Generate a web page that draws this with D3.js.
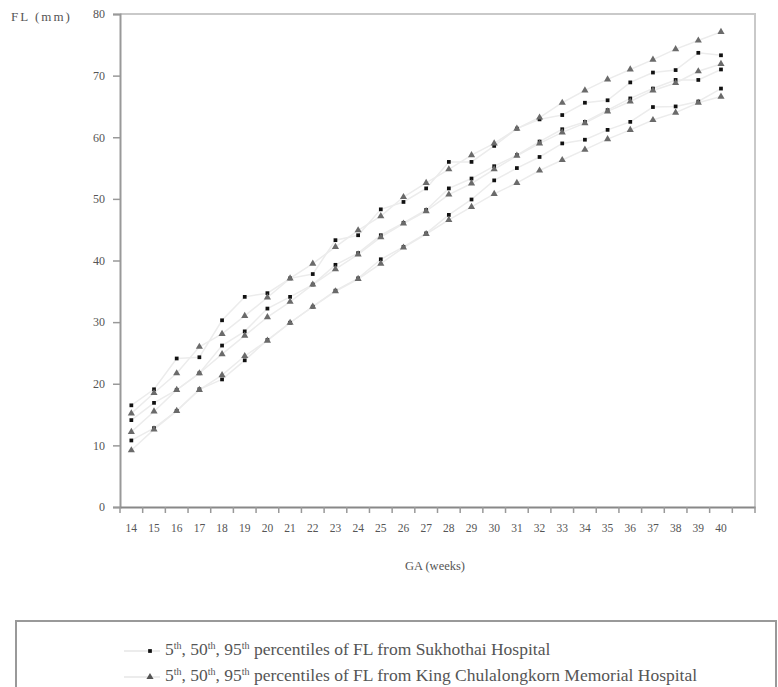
<!DOCTYPE html>
<html>
<head>
<meta charset="utf-8">
<script src="https://cdn.jsdelivr.net/npm/d3@7"></script>
<style>
  body { margin: 0; background: #fff; }
  text { font-family: "Liberation Serif", "DejaVu Serif", serif; fill: #555; }
</style>
</head>
<body>
<div id="chart"></div>
<script>
// gestational age (weeks); 41 is an empty slot at the end of the category axis
const weeks = [14, 15, 16, 17, 18, 19, 20, 21, 22, 23, 24, 25, 26, 27, 28, 29, 30, 31, 32, 33, 34, 35, 36, 37, 38, 39, 40];
const axisSlots = weeks.concat([41]);
const yTicks = [0, 10, 20, 30, 40, 50, 60, 70, 80];

// Sukhothai Hospital percentiles (FL, mm)
const suk5 = [10.8, 12.8, 15.6, 19.1, 20.7, 23.8, 27.1, 29.9, 32.5, 35.1, 37.1, 40.2, 42.2, 44.4, 47.4, 49.9, 53.0, 55.0, 56.8, 59.0, 59.6, 61.2, 62.5, 64.9, 65.0, 65.8, 67.9];
const suk50 = [14.1, 16.9, 19.0, 21.7, 26.2, 28.5, 32.2, 34.1, 36.1, 39.3, 41.2, 44.1, 46.1, 48.2, 51.7, 53.3, 55.3, 57.1, 59.3, 61.3, 62.5, 64.4, 66.3, 67.9, 69.3, 69.3, 71.0];
const suk95 = [16.5, 19.1, 24.1, 24.3, 30.3, 34.1, 34.7, 37.1, 37.8, 43.3, 44.1, 48.3, 49.5, 51.7, 56.0, 56.0, 58.6, 61.4, 62.9, 63.6, 65.6, 66.0, 68.9, 70.5, 70.9, 73.7, 73.3];

// King Chulalongkorn Memorial Hospital percentiles (FL, mm)
const kcm5 = [9.2, 12.6, 15.6, 19.0, 21.4, 24.5, 27.0, 29.9, 32.5, 35.0, 37.0, 39.5, 42.1, 44.3, 46.6, 48.7, 50.8, 52.6, 54.6, 56.3, 58.0, 59.7, 61.2, 62.8, 64.0, 65.6, 66.6];
const kcm50 = [12.2, 15.5, 19.0, 21.7, 24.8, 27.8, 30.8, 33.3, 36.1, 38.6, 41.0, 43.8, 46.0, 48.0, 50.7, 52.5, 54.8, 57.0, 59.0, 60.8, 62.3, 64.2, 65.8, 67.6, 68.8, 70.7, 71.9];
const kcm95 = [15.2, 18.5, 21.7, 26.0, 28.1, 31.0, 34.0, 37.1, 39.5, 42.2, 44.9, 47.2, 50.3, 52.6, 54.8, 57.1, 59.0, 61.4, 63.2, 65.6, 67.6, 69.4, 71.0, 72.6, 74.3, 75.7, 77.1];

const legendLabels = [
    { tail: " percentiles of FL from Sukhothai Hospital", kind: "square" },
    { tail: " percentiles of FL from King Chulalongkorn Memorial Hospital", kind: "triangle" }
];

const totalWidth = 778;
const totalHeight = 687;
const plot = { left: 120, right: 755, top: 14, bottom: 507 };

const svg = d3.select("#chart")
    .append("svg")
    .attr("width", totalWidth)
    .attr("height", totalHeight);

const x = d3.scaleBand()
    .domain(axisSlots)
    .range([plot.left, plot.right])
    .paddingInner(0)
    .paddingOuter(0);

const y = d3.scaleLinear()
    .domain([0, 80])
    .range([plot.bottom, plot.top]);

// plot frame (top & right)
svg.append("path")
    .attr("d", `M${plot.left},${plot.top}H${plot.right}V${plot.bottom}`)
    .attr("fill", "none")
    .attr("stroke", "#c9c9c9")
    .attr("stroke-width", 2);

// y axis
const yAxis = svg.append("g")
    .attr("transform", `translate(${plot.left},0)`)
    .call(d3.axisLeft(y).tickValues(yTicks).tickSize(7).tickPadding(8));
yAxis.select(".domain").attr("stroke", "#999").attr("stroke-width", 2);
yAxis.selectAll(".tick line").attr("stroke", "#999").attr("stroke-width", 1.5);
yAxis.selectAll(".tick text")
    .attr("font-family", "Liberation Serif")
    .attr("font-size", 12)
    .attr("fill", "#666");

// x axis: labels centred in each slot, ticks on slot boundaries
const xAxis = svg.append("g")
    .attr("transform", `translate(0,${plot.bottom})`)
    .call(d3.axisBottom(x).tickSize(0).tickPadding(17).tickFormat(d => d === 41 ? "" : d));
xAxis.select(".domain").attr("stroke", "#888").attr("stroke-width", 2);
xAxis.selectAll(".tick text")
    .attr("font-family", "Liberation Serif")
    .attr("font-size", 11.5)
    .attr("fill", "#666");

const boundaries = axisSlots.map(d => x(d)).concat([x(41) + x.bandwidth()]);
svg.append("g")
    .selectAll("line")
    .data(boundaries)
    .enter()
    .append("line")
    .attr("x1", d => d)
    .attr("x2", d => d)
    .attr("y1", plot.bottom)
    .attr("y2", plot.bottom + 6)
    .attr("stroke", "#999")
    .attr("stroke-width", 1.5);

// axis titles
svg.append("text")
    .attr("x", 11)
    .attr("y", 21)
    .attr("font-size", 13)
    .attr("letter-spacing", 2)
    .attr("fill", "#666")
    .text("FL (mm)");

svg.append("text")
    .attr("x", 435)
    .attr("y", 570)
    .attr("text-anchor", "middle")
    .attr("font-size", 12.5)
    .attr("fill", "#666")
    .text("GA (weeks)");

// series
const series = [
    { values: suk5, kind: "square" },
    { values: suk50, kind: "square" },
    { values: suk95, kind: "square" },
    { values: kcm5, kind: "triangle" },
    { values: kcm50, kind: "triangle" },
    { values: kcm95, kind: "triangle" }
];

const cx = d => x(d) + x.bandwidth() / 2;

const line = d3.line()
    .x(d => cx(d.week))
    .y(d => y(d.value));

const triangle = d3.symbol().type(d3.symbolTriangle).size(22);
const square = d3.symbol().type(d3.symbolSquare).size(14);

series.forEach(s => {
    const pts = weeks.map((w, i) => ({ week: w, value: s.values[i] }));
    svg.append("path")
        .datum(pts)
        .attr("d", line)
        .attr("fill", "none")
        .attr("stroke", "#ececec")
        .attr("stroke-width", 1.5);
});

series.forEach(s => {
    const pts = weeks.map((w, i) => ({ week: w, value: s.values[i] }));
    svg.append("g")
        .selectAll("path")
        .data(pts)
        .enter()
        .append("path")
        .attr("transform", d => `translate(${cx(d.week)},${y(d.value)})`)
        .attr("d", s.kind === "square" ? square : triangle)
        .attr("fill", s.kind === "square" ? "#111" : "#6a6a6a");
});

// legend
svg.append("rect")
    .attr("x", 16)
    .attr("y", 621)
    .attr("width", 760)
    .attr("height", 80)
    .attr("fill", "none")
    .attr("stroke", "#999")
    .attr("stroke-width", 2);

legendLabels.forEach((l, i) => {
    const ly = 651 + i * 26;
    svg.append("line")
        .attr("x1", 124)
        .attr("x2", 160)
        .attr("y1", ly)
        .attr("y2", ly)
        .attr("stroke", "#e6e6e6")
        .attr("stroke-width", 1.5);
    svg.append("path")
        .attr("transform", `translate(150,${ly})`)
        .attr("d", l.kind === "square" ? square : triangle)
        .attr("fill", l.kind === "square" ? "#111" : "#555");

    const t = svg.append("text")
        .attr("x", 165)
        .attr("y", ly + 4)
        .attr("font-size", 17.5)
        .attr("fill", "#555");
    t.append("tspan").text("5");
    t.append("tspan").attr("dy", -6).attr("font-size", 10).text("th");
    t.append("tspan").attr("dy", 6).text(", 50");
    t.append("tspan").attr("dy", -6).attr("font-size", 10).text("th");
    t.append("tspan").attr("dy", 6).text(", 95");
    t.append("tspan").attr("dy", -6).attr("font-size", 10).text("th");
    t.append("tspan").attr("dy", 6).text(l.tail);
});
</script>
</body>
</html>
